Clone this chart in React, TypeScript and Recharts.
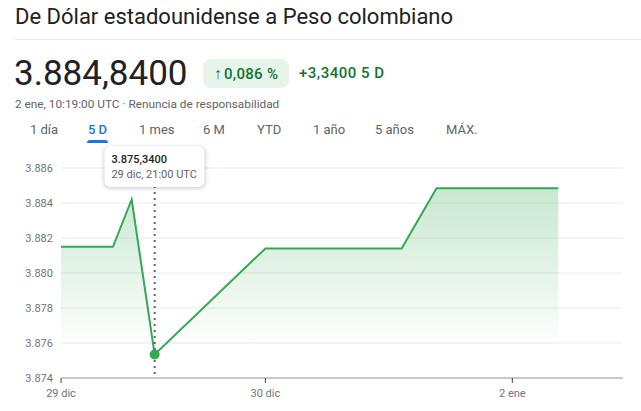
import React from "react";
import {
  AreaChart,
  Area,
  XAxis,
  YAxis,
  CartesianGrid,
  Tooltip,
} from "recharts";

// x is a session-hour index (29 dic = 0), y is COP per USD
const times = [0, 6.1, 8.3, 11, 24, 40, 44.1, 58.4];
const rates = [3881.5, 3881.5, 3884.2, 3875.34, 3881.4, 3881.4, 3884.84, 3884.84];
const stamps = [
  "29 dic, 00:00 UTC",
  "29 dic, 06:00 UTC",
  "29 dic, 08:00 UTC",
  "29 dic, 21:00 UTC",
  "30 dic, 00:00 UTC",
  "31 dic, 16:00 UTC",
  "2 ene, 20:00 UTC",
  "2 ene, 10:19 UTC",
];
const xTicks = [0, 24, 53];
const xTickLabels = ["29 dic", "30 dic", "2 ene"];
const yTicks = [3874, 3876, 3878, 3880, 3882, 3884, 3886];
const ranges = ["1 día", "5 D", "1 mes", "6 M", "YTD", "1 año", "5 años", "MÁX."];

const data = times.map((t, i) => ({ t, rate: rates[i], stamp: stamps[i] }));

const FONT = "Roboto, Arial, sans-serif";
const GREEN = "#34a853";

const thousands = (v: number) => {
  const s = Math.floor(v).toString();
  return s.slice(0, s.length - 3) + "." + s.slice(-3);
};
const fmtRate = (v: number) => {
  const [i, d = ""] = v.toFixed(4).split(".");
  return thousands(Number(i)) + "," + d;
};

function TipBox({ active, payload }: any) {
  if (!active || !payload || !payload.length) return null;
  const p = payload[0].payload;
  return (
    <div
      style={{
        transform: "translateX(-50%)",
        background: "#fff",
        borderRadius: 6,
        boxShadow: "0 1px 4px rgba(60,64,67,0.3)",
        padding: "6px 8px 5px 7px",
        fontFamily: FONT,
        fontSize: 11,
        lineHeight: "15px",
        whiteSpace: "nowrap",
      }}
    >
      <div style={{ color: "#202124", fontWeight: 500 }}>{fmtRate(p.rate)}</div>
      <div style={{ color: "#5f6368" }}>{p.stamp}</div>
    </div>
  );
}

export default function App() {
  return (
    <div
      style={{
        position: "absolute",
        left: 0,
        top: 0,
        width: 641,
        height: 411,
        background: "#fff",
        fontFamily: FONT,
        overflow: "hidden",
      }}
    >
      <div
        style={{
          position: "absolute",
          left: 15,
          top: 2,
          fontSize: 22,
          color: "#202124",
          lineHeight: "30px",
        }}
      >
        De Dólar estadounidense a Peso colombiano
      </div>
      <div
        style={{
          position: "absolute",
          left: 15,
          right: 0,
          top: 39,
          height: 1,
          background: "#e8eaed",
        }}
      />
      <div
        style={{
          position: "absolute",
          left: 14,
          top: 54,
          fontSize: 35,
          color: "#202124",
          lineHeight: "40px",
        }}
      >
        3.884,8400
      </div>
      <div
        style={{
          position: "absolute",
          left: 203,
          top: 59,
          width: 86,
          height: 29,
          borderRadius: 8,
          background: "#e6f4ea",
          color: "#137333",
          fontSize: 15,
          fontWeight: 500,
          lineHeight: "29px",
          textAlign: "center",
          letterSpacing: 0.3,
        }}
      >
        <span style={{ fontSize: 16, marginRight: 2 }}>↑</span>0,086 %
      </div>
      <div
        style={{
          position: "absolute",
          left: 299,
          top: 59,
          color: "#137333",
          fontSize: 15,
          fontWeight: 500,
          lineHeight: "29px",
          letterSpacing: 0.5,
        }}
      >
        +3,3400 5 D
      </div>
      <div
        style={{
          position: "absolute",
          left: 15,
          top: 96,
          color: "#5f6368",
          fontSize: 11.8,
          lineHeight: "16px",
        }}
      >
        2 ene, 10:19:00 UTC · Renuncia de responsabilidad
      </div>
      <div
        style={{
          position: "absolute",
          left: 30,
          top: 121,
          fontSize: 13,
          lineHeight: "18px",
        }}
      >
        {ranges.map((r, i) => (
          <div
            key={r}
            style={{
              position: "absolute",
              left: [0, 58, 109, 173, 227, 283, 345, 416][i],
              whiteSpace: "nowrap",
              color: i === 1 ? "#1a73e8" : "#5f6368",
              fontWeight: i === 1 ? 500 : 400,
            }}
          >
            {r}
            {i === 1 && (
              <div
                style={{
                  position: "absolute",
                  left: -1,
                  right: -1,
                  top: 19,
                  height: 3,
                  borderRadius: "3px 3px 0 0",
                  background: "#1a73e8",
                }}
              />
            )}
          </div>
        ))}
      </div>
      <div style={{ position: "absolute", left: 0, top: 145 }}>
        <AreaChart
          width={641}
          height={266}
          data={data}
          margin={{ top: 23, right: 18, bottom: 3, left: 0 }}
        >
          <defs>
            <linearGradient id="fxFill" x1="0" y1="0" x2="0" y2="1">
              <stop offset="0%" stopColor={GREEN} stopOpacity={0.45} />
              <stop offset="85%" stopColor={GREEN} stopOpacity={0} />
            </linearGradient>
          </defs>
          <CartesianGrid vertical={false} stroke="#ebebeb" />
          <XAxis
            dataKey="t"
            type="number"
            domain={[0, 66]}
            ticks={xTicks}
            tickFormatter={(v: number) => xTickLabels[xTicks.indexOf(v)] ?? ""}
            tick={{ fontSize: 11, fill: "#70757a", fontFamily: FONT }}
            axisLine={{ stroke: "#9aa0a6" }}
            tickLine={{ stroke: "#3c4043" }}
            tickSize={5}
            tickMargin={6}
            height={30}
          />
          <YAxis
            domain={[3874, 3886]}
            ticks={yTicks}
            tickFormatter={thousands}
            tick={{ fontSize: 11, fill: "#70757a", fontFamily: FONT }}
            axisLine={false}
            tickLine={false}
            width={61}
          />
          <Tooltip
            content={<TipBox />}
            defaultIndex={3}
            position={{ y: 1 }}
            offset={0}
            isAnimationActive={false}
            allowEscapeViewBox={{ x: true, y: true }}
            cursor={{ stroke: "#5f6368", strokeWidth: 2, strokeDasharray: "2 4" }}
          />
          <Area
            type="linear"
            dataKey="rate"
            stroke={GREEN}
            strokeWidth={2}
            fill="url(#fxFill)"
            baseValue="dataMin"
            dot={false}
            activeDot={{ r: 5, fill: GREEN, stroke: "none" }}
            isAnimationActive={false}
          />
        </AreaChart>
      </div>
    </div>
  );
}
